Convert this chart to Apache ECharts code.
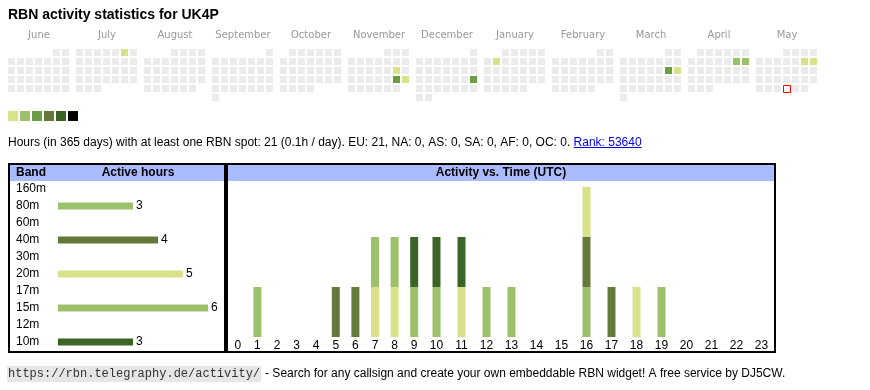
<!DOCTYPE html>
<html><head><meta charset="utf-8">
<script src="https://cdn.jsdelivr.net/npm/echarts@6/dist/echarts.min.js"></script>
<style>html,body{margin:0;padding:0;background:#fff}#c{width:870px;height:390px}</style>
</head><body><div id="c"></div>
<script>
// ---------- data ----------
const titleText = 'RBN activity statistics for UK4P';
const monthNames = ['June','July','August','September','October','November','December','January','February','March','April','May'];
const monthRanges = ['2024-06','2024-07','2024-08','2024-09','2024-10','2024-11','2024-12','2025-01','2025-02','2025-03','2025-04','2025-05'];
const activeDays = ['2024-07-06','2024-11-16','2024-11-23','2024-11-24','2024-12-22','2025-01-07','2025-03-15','2025-03-16','2025-04-12','2025-04-13','2025-05-10','2025-05-11'];
const activeDayHours = [1,1,3,1,3,1,3,1,2,2,1,1];
const todayDate = '2025-05-29';
const levelColors = ['#d9e18a','#9dc16a','#6a9e45','#647a3a','#3b6427','#000000'];
const levelMins = [1,2,3,5,7,10];
const emptyColor = '#ebebeb';

const statsText = 'Hours (in 365 days) with at least one RBN spot: 21 (0.1h / day). EU: 21, NA: 0, AS: 0, SA: 0, AF: 0, OC: 0. ';
const rankText = 'Rank: 53640';

const bands = ['160m','80m','60m','40m','30m','20m','17m','15m','12m','10m'];
const bandHours = [0,3,0,4,0,5,0,6,0,3];
const bandColors = ['#d9e18a','#9dc16a','#6a9e45','#647a3a','#3b6427','#d9e18a','#9dc16a','#9dc16a','#647a3a','#3b6427'];

const hourLabels = ['0','1','2','3','4','5','6','7','8','9','10','11','12','13','14','15','16','17','18','19','20','21','22','23'];
const hours80m = [0,1,0,0,0,0,0,0,0,0,0,0,0,0,0,0,1,0,0,1,0,0,0,0];
const hours40m = [0,0,0,0,0,1,1,0,0,0,0,0,0,0,0,0,1,1,0,0,0,0,0,0];
const hours20m = [0,0,0,0,0,0,0,1,1,0,0,1,0,0,0,0,1,0,1,0,0,0,0,0];
const hours15m = [0,0,0,0,0,0,0,1,1,1,1,0,1,1,0,0,0,0,0,0,0,0,0,0];
const hours10m = [0,0,0,0,0,0,0,0,0,1,1,1,0,0,0,0,0,0,0,0,0,0,0,0];
const stackBands = ['80m','40m','20m','15m','10m'];
const stackData = [hours80m, hours40m, hours20m, hours15m, hours10m];
const stackColors = ['#9dc16a','#647a3a','#d9e18a','#9dc16a','#3b6427'];

const footerUrl = 'https://rbn.telegraphy.de/activity/';
const footerText = '- Search for any callsign and create your own embeddable RBN widget! A free service by DJ5CW.';

// ---------- helpers ----------
const SANS = "'Liberation Sans', Arial, sans-serif";
const MONO = "'Liberation Mono', 'DejaVu Sans Mono', monospace";
const measureCtx = document.createElement('canvas').getContext('2d');
function textWidth(t, font){ measureCtx.font = font; return measureCtx.measureText(t).width; }
function pad(n){ return n < 10 ? '0' + n : '' + n; }
function daysOf(ym){
  const p = ym.split('-').map(Number);
  const n = new Date(p[0], p[1], 0).getDate();
  const out = [];
  for (let d = 1; d <= n; d++) out.push(ym + '-' + pad(d));
  return out;
}
function hoursOn(date){ const i = activeDays.indexOf(date); return i < 0 ? 0 : activeDayHours[i]; }
function levelColor(v){
  if (!v) return emptyColor;
  let k = 0;
  for (let i = 0; i < levelMins.length; i++) if (v >= levelMins[i]) k = i;
  return levelColors[k];
}
function txt(x, y, text, font, fill, align, valign){
  return { type:'text', x:x, y:y, silent:true,
    style:{ text:text, font:font, fill:fill||'#000', textAlign:align||'left', textVerticalAlign:valign||'middle', align:align||'left', verticalAlign:valign||'middle' } };
}

// ---------- calendar ----------
const CAL_LEFT = 7, CAL_STEP = 68, CAL_TOP = 48, CELL = 9;
const calendars = monthRanges.map((r, m) => ({
  orient:'vertical', range:r, left:CAL_LEFT + CAL_STEP*m, top:CAL_TOP, cellSize:[CELL, CELL],
  splitLine:{show:false}, itemStyle:{color:'rgba(0,0,0,0)', borderWidth:0},
  dayLabel:{show:false, firstDay:1}, monthLabel:{show:false}, yearLabel:{show:false}, silent:true
}));
const series = [];
monthRanges.forEach((r, m) => {
  series.push({
    type:'scatter', coordinateSystem:'calendar', calendarIndex:m, symbol:'rect', symbolSize:7, silent:true,
    data: daysOf(r).map(d => [d, hoursOn(d)]),
    itemStyle:{ color: p => levelColor(p.value[1]), opacity:1 }
  });
});
series.push({
  type:'scatter', coordinateSystem:'calendar', calendarIndex:monthRanges.indexOf(todayDate.slice(0,7)),
  symbol:'rect', symbolSize:7, symbolOffset:[0.5, 0.5], silent:true, z:5,
  data:[[todayDate, hoursOn(todayDate)]],
  itemStyle:{ color:'#f6f6f6', borderColor:'#ff0000', borderWidth:1, borderType:'solid', opacity:1 }
});

// ---------- band table ----------
series.push({
  type:'bar', xAxisIndex:0, yAxisIndex:0, barWidth:7, silent:true,
  data: bandHours.map((v, i) => v ? { value:v, itemStyle:{ color:bandColors[i] } } : '-'),
  label:{ show:true, position:'right', distance:3, fontSize:12, fontFamily:SANS, color:'#000' }
});

// ---------- activity vs time ----------
const SPLIT = 10;
stackData.forEach((arr, s) => {
  [[0, SPLIT, 1], [SPLIT, 24, 2]].forEach(([a, b, gi]) => {
    series.push({
      type:'bar', name:stackBands[s], stack:'h' + gi, xAxisIndex:gi, yAxisIndex:gi, barWidth:8, silent:true,
      itemStyle:{ color:stackColors[s] },
      data: arr.slice(a, b).map(v => v ? v : '-')
    });
  });
});

const hourAxisLabel = { interval:0, margin:3, fontSize:12, fontFamily:SANS, color:'#000' };
const option = {
  animation:false,
  backgroundColor:'#ffffff',
  calendar: calendars,
  grid: [
    { left:58, top:180.5, width:150, height:170 },
    { left:228, top:187, width:196, height:150 },
    { left:424, top:187, width:350, height:150 }
  ],
  xAxis: [
    { type:'value', gridIndex:0, min:0, max:6, show:false },
    { type:'category', gridIndex:1, data:hourLabels.slice(0, SPLIT), axisLine:{show:false}, axisTick:{show:false}, axisLabel:hourAxisLabel },
    { type:'category', gridIndex:2, data:hourLabels.slice(SPLIT), axisLine:{show:false}, axisTick:{show:false}, axisLabel:hourAxisLabel }
  ],
  yAxis: [
    { type:'category', gridIndex:0, data:bands, inverse:true, axisLine:{show:false}, axisTick:{show:false}, splitLine:{show:false},
      axisLabel:{ margin:42, align:'left', fontSize:12, fontFamily:SANS, color:'#000', interval:0 } },
    { type:'value', gridIndex:1, min:0, max:3, show:false, splitLine:{show:false} },
    { type:'value', gridIndex:2, min:0, max:3, show:false, splitLine:{show:false} }
  ],
  series: series,
  graphic: { elements: [] }
};

// ---------- decorations ----------
const G = option.graphic.elements;
G.push(txt(8, 15, titleText, 'bold 14px ' + SANS, '#000'));
monthNames.forEach((n, m) => {
  G.push(txt(CAL_LEFT + CAL_STEP*m + 32, 35, n, "10px 'DejaVu Sans', Verdana, sans-serif", '#999', 'center'));
});
levelColors.forEach((c, i) => {
  G.push({ type:'rect', silent:true, shape:{ x:8 + 12*i, y:111, width:10, height:10 }, style:{ fill:c } });
});
const statsFont = '12px ' + SANS;
G.push(txt(8, 142.5, statsText, statsFont, '#000'));
const rankX = 8 + textWidth(statsText, statsFont);
const rankW = textWidth(rankText, statsFont);
G.push(txt(rankX, 142.5, rankText, statsFont, '#0000ee'));
G.push({ type:'rect', silent:true, shape:{ x:rankX, y:147, width:rankW, height:1 }, style:{ fill:'#0000ee' } });

// boxes
G.push({ type:'rect', silent:true, shape:{ x:10, y:165, width:214, height:16 }, style:{ fill:'#aabbff' } });
G.push({ type:'rect', silent:true, shape:{ x:228, y:165, width:546, height:16 }, style:{ fill:'#aabbff' } });
G.push({ type:'rect', silent:true, shape:{ x:9, y:164, width:216, height:188 }, style:{ fill:'none', stroke:'#000', lineWidth:2 } });
G.push({ type:'rect', silent:true, shape:{ x:227, y:164, width:548, height:188 }, style:{ fill:'none', stroke:'#000', lineWidth:2 } });
G.push(txt(16, 172.5, 'Band', 'bold 12px ' + SANS, '#000'));
G.push(txt(138, 172.5, 'Active hours', 'bold 12px ' + SANS, '#000', 'center'));
G.push(txt(501, 172.5, 'Activity vs. Time (UTC)', 'bold 12px ' + SANS, '#000', 'center'));

// footer
const monoFont = '12px ' + MONO;
const urlW = textWidth(footerUrl, monoFont);
G.push({ type:'rect', silent:true, shape:{ x:7, y:366, width:urlW + 2, height:16 }, style:{ fill:'#e6e6e6' } });
G.push(txt(8, 374, footerUrl, monoFont, '#333'));
G.push(txt(7 + urlW + 2 + 4, 374, footerText, '12px ' + SANS, '#000'));

const chart = echarts.init(document.getElementById('c'), null, { renderer:'canvas' });
chart.setOption(option);
</script>
</body></html>
